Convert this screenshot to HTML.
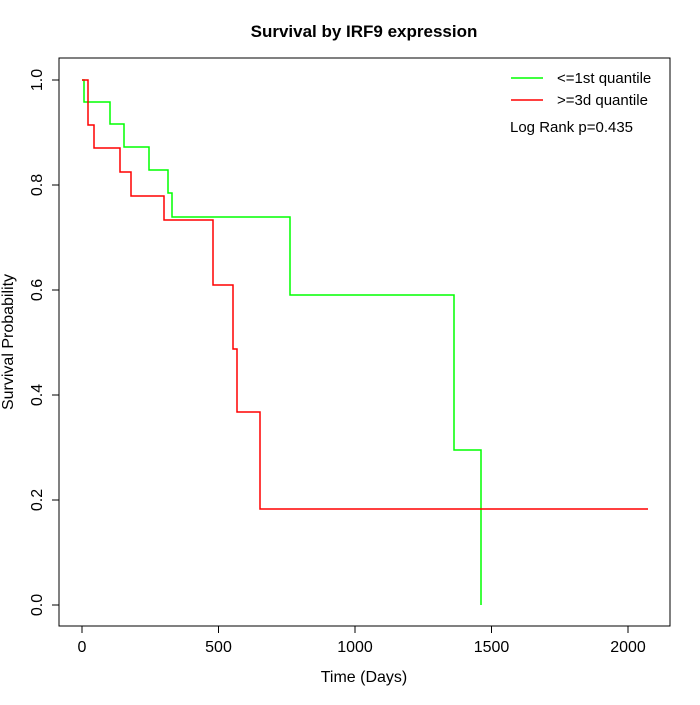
<!DOCTYPE html><html><head><style>body{margin:0;background:#fff}</style></head><body>
<svg width="700" height="700" xmlns="http://www.w3.org/2000/svg" font-family="Liberation Sans, sans-serif">
<rect width="700" height="700" fill="#fff"/>
<text x="364" y="37" text-anchor="middle" font-size="17" font-weight="bold">Survival by IRF9 expression</text>
<rect x="59" y="58" width="611" height="568" fill="none" stroke="#000"/>
<g stroke="#000" fill="none">
<path d="M82 626v7M218.5 626v7M355 626v7M491.5 626v7M628 626v7"/>
<path d="M59 605h-7M59 500h-7M59 395h-7M59 290h-7M59 185h-7M59 80h-7"/>
</g>
<g font-size="16" text-anchor="middle">
<text x="82" y="652">0</text><text x="218.5" y="652">500</text><text x="355" y="652">1000</text><text x="491.5" y="652">1500</text><text x="628" y="652">2000</text>
<text x="364" y="682">Time (Days)</text>
</g>
<g font-size="16" text-anchor="middle">
<text transform="translate(42,605) rotate(-90)">0.0</text>
<text transform="translate(42,500) rotate(-90)">0.2</text>
<text transform="translate(42,395) rotate(-90)">0.4</text>
<text transform="translate(42,290) rotate(-90)">0.6</text>
<text transform="translate(42,185) rotate(-90)">0.8</text>
<text transform="translate(42,80) rotate(-90)">1.0</text>
<text transform="translate(13,342) rotate(-90)">Survival Probability</text>
</g>
<path d="M82 80H84V102H110V124H124V147H149V170H168V193H172V217H290V295H454V450H481V605" fill="none" stroke="#00ff00" stroke-width="1.5"/>
<path d="M82 80H88V125H94V148H120V172H131V196H164V220H213V285H233V349H237V412H260V509H648" fill="none" stroke="#ff0000" stroke-width="1.5"/>
<line x1="511" y1="78" x2="543" y2="78" stroke="#00ff00" stroke-width="1.5"/>
<line x1="511" y1="100" x2="543" y2="100" stroke="#ff0000" stroke-width="1.5"/>
<g font-size="15"><text x="557" y="83">&lt;=1st quantile</text><text x="557" y="105">&gt;=3d quantile</text><text x="510" y="132">Log Rank p=0.435</text></g>
</svg></body></html>
